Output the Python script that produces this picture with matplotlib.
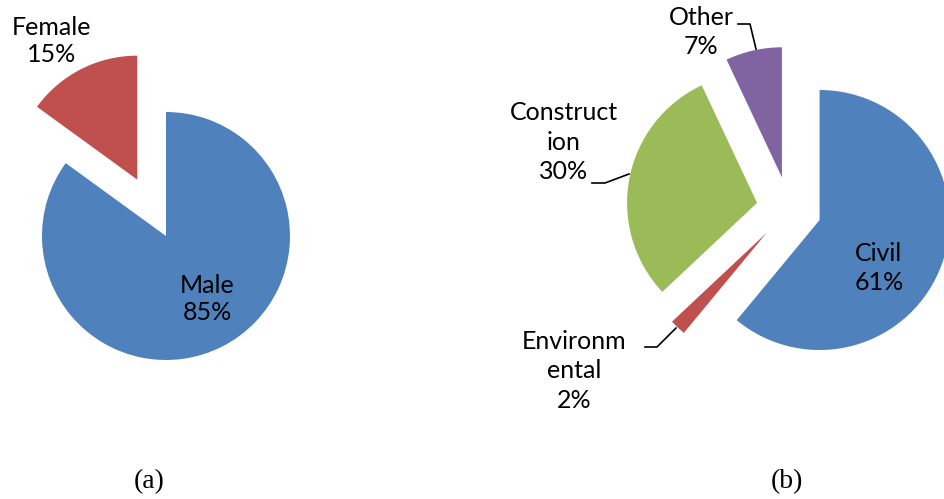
import matplotlib
matplotlib.use("Agg")
import matplotlib.pyplot as plt

# Data
gender_labels = ["Male", "Female"]
gender_values = [85, 15]
gender_colors = ["#4F81BD", "#C0504D"]

dept_labels = ["Civil", "Environm\nental", "Construct\nion", "Other"]
dept_values = [61, 2, 30, 7]
dept_colors = ["#4F81BD", "#C0504D", "#9BBB59", "#8064A2"]

W, H = 945, 499
fig = plt.figure(figsize=(W / 100, H / 100), dpi=100)
ax = fig.add_axes([0, 0, 1, 1])

font = ["Lato", "DejaVu Sans"]
fs = 18

# (a) gender pie
ra = 124
ax.pie(gender_values, colors=gender_colors, startangle=90, counterclock=False,
       radius=ra, center=(166, H - 236), explode=[0, 0.51 * ra],
       wedgeprops=dict(linewidth=0), frame=True)

# (b) department pie
rb = 130
ax.pie(dept_values, colors=dept_colors, startangle=90, counterclock=False,
       radius=rb, center=(789, H - 209), explode=[0.25 * rb] * 4,
       wedgeprops=dict(linewidth=0), frame=True)

ax.set_xlim(0, W)
ax.set_ylim(0, H)
ax.set_aspect("equal")
ax.axis("off")

def lab(text, x, y, ls=1.25):
    ax.text(x, H - y, text, ha="center", va="center", multialignment="center",
            fontsize=fs, family=font, color="black", linespacing=ls)

lab(f"{gender_labels[1]}\n{gender_values[1]}%", 52, 41)
lab(f"{gender_labels[0]}\n{gender_values[0]}%", 207, 299)

lab(f"{dept_labels[3]}\n{dept_values[3]}%", 701, 32, 1.3)
lab(f"{dept_labels[2]}\n{dept_values[2]}%", 564, 142, 1.35)
lab(f"{dept_labels[0]}\n{dept_values[0]}%", 879, 268, 1.3)
lab(f"{dept_labels[1]}\n{dept_values[1]}%", 574, 371, 1.35)

# leader lines
lw = 1.2
ax.plot([738, 750, 756], [H - 24, H - 24, H - 49], color="black", lw=lw)
ax.plot([592, 605, 629], [H - 183, H - 183, H - 174], color="black", lw=lw)
ax.plot([645, 657, 676], [H - 347, H - 347, H - 328], color="black", lw=lw)

# subtitles
ax.text(149, H - 482, "(a)", ha="center", va="center", fontsize=20,
        family=["Liberation Serif", "DejaVu Serif"])
ax.text(787, H - 482, "(b)", ha="center", va="center", fontsize=20,
        family=["Liberation Serif", "DejaVu Serif"])

fig.savefig("out.png", dpi=100)
